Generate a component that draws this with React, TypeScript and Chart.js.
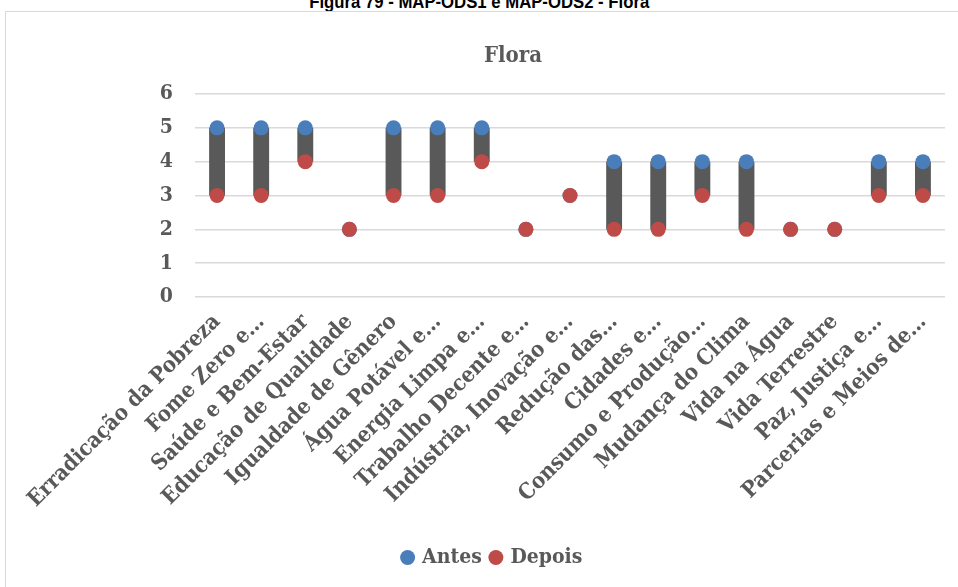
import React, { useEffect, useRef } from "react";
import { Chart, registerables } from "chart.js";

Chart.register(...registerables);

const categories: string[] = [
  "Erradicação da Pobreza",
  "Fome Zero e…",
  "Saúde e Bem-Estar",
  "Educação de Qualidade",
  "Igualdade de Gênero",
  "Água Potável e…",
  "Energia Limpa e…",
  "Trabalho Decente e…",
  "Indústria, Inovação e…",
  "Redução das…",
  "Cidades e…",
  "Consumo e Produção…",
  "Mudança do Clima",
  "Vida na Água",
  "Vida Terrestre",
  "Paz, Justiça e…",
  "Parcerias e Meios de…",
];

const antes: number[] = [5, 5, 5, 2, 5, 5, 5, 2, 3, 4, 4, 4, 4, 2, 2, 4, 4];
const depois: number[] = [3, 3, 4, 2, 3, 3, 4, 2, 3, 2, 2, 3, 2, 2, 2, 3, 3];

const yTicks: number[] = [0, 1, 2, 3, 4, 5, 6];

const outerTitle = "Figura 79 - MAP-ODS1 e MAP-ODS2 - Flora";
const chartTitle = "Flora";

const TEXT = "#595959";
const SERIF = "'DejaVu Serif Condensed', 'DejaVu Serif', serif";

export default function App() {
  const ref = useRef<HTMLCanvasElement | null>(null);

  useEffect(() => {
    if (!ref.current) return;
    const chart = new Chart(ref.current, {
      type: "bar",
      data: {
        labels: categories,
        datasets: [
          {
            type: "bar",
            label: "range",
            data: antes.map((a, i) => [depois[i], a]) as any,
            backgroundColor: "#595959",
            borderWidth: 0,
            barPercentage: 0.36,
            categoryPercentage: 1,
            borderSkipped: false,
            order: 3,
          },
          {
            type: "line",
            label: "Antes",
            data: antes,
            showLine: false,
            pointRadius: 7.5,
            pointHoverRadius: 7.5,
            pointBackgroundColor: "#4A7EBB",
            pointBorderWidth: 0,
            backgroundColor: "#4A7EBB",
            borderColor: "#4A7EBB",
            pointStyle: "circle",
            order: 2,
          },
          {
            type: "line",
            label: "Depois",
            data: depois,
            showLine: false,
            pointRadius: 7.5,
            pointHoverRadius: 7.5,
            pointBackgroundColor: "#BE4B48",
            pointBorderWidth: 0,
            backgroundColor: "#BE4B48",
            borderColor: "#BE4B48",
            pointStyle: "circle",
            order: 1,
          },
        ],
      },
      options: {
        animation: false,
        responsive: false,
        maintainAspectRatio: false,
        layout: { padding: { left: 35, right: 13, top: 82, bottom: 9 } },
        plugins: {
          tooltip: { enabled: false },
          title: { display: false },
          legend: {
            position: "bottom",
            labels: {
              filter: (item) => item.text !== "range",
              sort: (a, b) => (a.text === "Antes" ? -1 : b.text === "Antes" ? 1 : 0),
              usePointStyle: true,
              pointStyle: "circle",
              boxWidth: 8,
              boxHeight: 10.6,
              color: TEXT,
              font: { family: SERIF, size: 21, weight: "bold" },
              padding: 10,
            },
          },
        },
        scales: {
          x: {
            offset: true,
            grid: { display: false, drawTicks: false },
            border: { display: false },
            ticks: {
              autoSkip: false,
              maxRotation: 45,
              minRotation: 45,
              color: TEXT,
              padding: 12,
              font: { family: SERIF, size: 22, weight: "bold" },
            },
            afterFit: (scale: any) => {
              scale.height = 240;
            },
          },
          y: {
            min: 0,
            max: 6,
            afterBuildTicks: (scale: any) => {
              scale.ticks = yTicks.map((v) => ({ value: v }));
            },
            grid: { color: "#D9D9D9", lineWidth: 1.5, drawTicks: false },
            border: { display: false },
            ticks: {
              color: TEXT,
              padding: 22,
              font: { family: SERIF, size: 21, weight: "bold" },
            },
            afterFit: (scale: any) => {
              scale.width = 154;
            },
          },
        },
      },
    });
    return () => chart.destroy();
  }, []);

  return (
    <div
      style={{
        position: "absolute",
        left: 0,
        top: 0,
        width: 958,
        height: 587,
        background: "#fff",
        overflow: "hidden",
      }}
    >
      <div
        style={{
          position: "absolute",
          left: 0,
          top: -8,
          width: 958,
          textAlign: "center",
          fontFamily: "'Liberation Sans', Arial, sans-serif",
          fontWeight: "bold",
          fontSize: 19,
          lineHeight: "19px",
          color: "#000",
        }}
      >
        <span style={{ display: "inline-block", transform: "scaleX(0.88)" }}>
          {outerTitle}
        </span>
      </div>
      <div
        style={{
          position: "absolute",
          left: 5,
          top: 11,
          width: 1000,
          height: 590,
          border: "1px solid #D9D9D9",
          boxSizing: "border-box",
        }}
      >
        <canvas ref={ref} width={952} height={575} style={{ display: "block" }} />
        <div
          style={{
            position: "absolute",
            left: 0,
            top: 29,
            width: 1014,
            textAlign: "center",
            fontFamily: SERIF,
            fontWeight: "bold",
            fontSize: 22,
            lineHeight: "26px",
            color: TEXT,
          }}
        >
          {chartTitle}
        </div>
      </div>
    </div>
  );
}
